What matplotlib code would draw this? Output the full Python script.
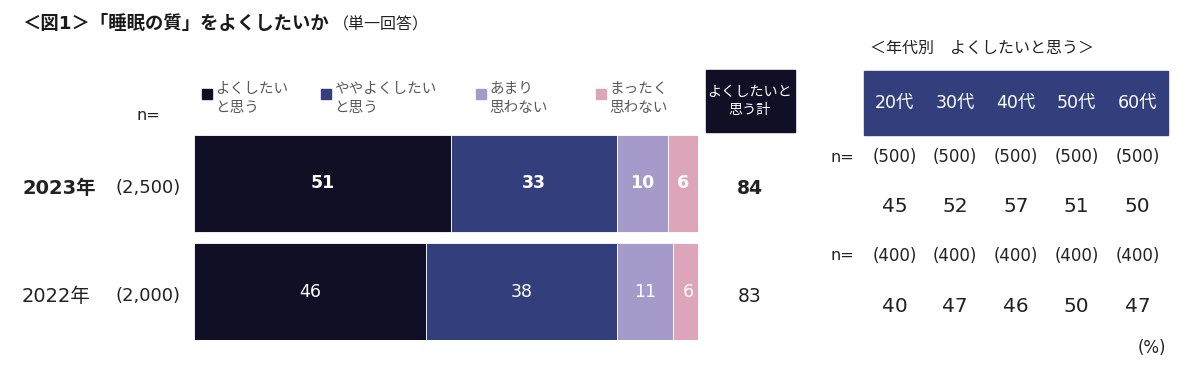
import matplotlib.pyplot as plt
import numpy as np

plt.rcParams['font.family'] = ['DejaVu Sans', 'Noto Sans CJK JP']

W, H = 1194, 376

years = ['2023年', '2022年']
year_n = ['(2,500)', '(2,000)']
categories = ['よくしたい\nと思う', 'ややよくしたい\nと思う', 'あまり\n思わない', 'まったく\n思わない']
values = np.array([[51, 33, 10, 6],
                   [46, 38, 11, 6]])
totals = [84, 83]

ages = ['20代', '30代', '40代', '50代', '60代']
age_n_2023 = ['(500)'] * 5
age_val_2023 = [45, 52, 57, 51, 50]
age_n_2022 = ['(400)'] * 5
age_val_2022 = [40, 47, 46, 50, 47]

colors = ['#100f26', '#323f7c', '#a59ac9', '#dca5b9']
txt = '#222222'
gray = '#595959'

fig = plt.figure(figsize=(W / 100, H / 100), dpi=100)


def px(x, y):
    return x / W, 1 - y / H


def t(x, y, s, **kw):
    kw.setdefault('color', txt)
    kw.setdefault('va', 'center')
    fig.text(*px(x, y), s, **kw)


# title
t(22, 24, '＜図1＞「睡眠の質」をよくしたいか', fontsize=13.2, fontweight='bold', color='#1a1a1a')
t(333, 25, '（単一回答）', fontsize=11.5)

# bar chart
ax = fig.add_axes([194 / W, 1 - 340 / H, 504 / W, 205 / H])
left = np.zeros(len(years))
for i in range(values.shape[1]):
    ax.barh(range(len(years)), values[:, i], left=left, height=0.9,
            color=colors[i], edgecolor='white', linewidth=0.6)
    for j in range(len(years)):
        ax.text(left[j] + values[j, i] / 2, j, str(values[j, i]), ha='center', va='center',
                color='white', fontsize=12.5, fontweight='bold' if j == 0 else 'normal')
    left += values[:, i]
ax.set_xlim(0, 100)
ax.set_ylim(1.449, -0.449)
ax.axis('off')

# legend
leg_x = [202, 321, 476, 596]
for x, c, lab in zip(leg_x, colors, categories):
    fig.patches.append(plt.Rectangle(px(x, 99), 10 / W, 10 / H, color=c,
                                     transform=fig.transFigure))
    t(x + 13, 98, lab, fontsize=10.5, color=gray, linespacing=1.4)

t(148, 116, 'n=', fontsize=11.5, ha='center')

# total header box
fig.patches.append(plt.Rectangle(px(706, 132), 89 / W, 62 / H, color='#100f26',
                                 transform=fig.transFigure))
t(750, 101, 'よくしたいと\n思う計', fontsize=10.2, color='white', ha='center', linespacing=1.45)

row_y = [188, 296]
for j in range(len(years)):
    wt = 'bold' if j == 0 else 'normal'
    t(22, row_y[j], years[j], fontsize=14, fontweight=wt)
    t(148, row_y[j], year_n[j], fontsize=13, ha='center')
    t(750, row_y[j], str(totals[j]), fontsize=13.5, fontweight=wt, ha='center')

# age table
t(870, 48, '＜年代別\u3000よくしたいと思う＞', fontsize=11.5)
fig.patches.append(plt.Rectangle(px(864, 135), 304 / W, 64 / H, color='#323f7c',
                                 transform=fig.transFigure))
col_x = 864 + 60.8 * (np.arange(len(ages)) + 0.5)
for k in range(len(ages)):
    t(col_x[k], 103, ages[k], fontsize=12.5, color='white', ha='center')
    t(col_x[k], 157, age_n_2023[k], fontsize=12, ha='center')
    t(col_x[k], 207, str(age_val_2023[k]), fontsize=14.5, ha='center')
    t(col_x[k], 256, age_n_2022[k], fontsize=12, ha='center')
    t(col_x[k], 307, str(age_val_2022[k]), fontsize=14.5, ha='center')
t(842, 157, 'n=', fontsize=11.5, ha='center')
t(842, 256, 'n=', fontsize=11.5, ha='center')
t(1152, 348, '(%)', fontsize=12, ha='center')

fig.savefig('out.png', dpi=100)
